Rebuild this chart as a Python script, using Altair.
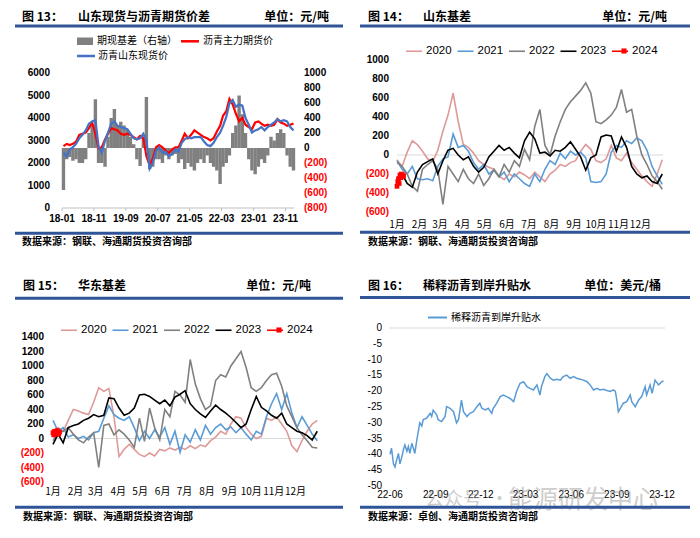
import altair as alt
import pandas as pd

CJK = "Noto Sans CJK SC"
LAT = "Liberation Sans"
RULE_BLUE = "#2F5597"
SRC_A = "数据来源：钢联、海通期货投资咨询部"
SRC_B = "数据来源：卓创、海通期货投资咨询部"
M = 8  # page margin: image coordinate -> chart coordinate

# ---------------- Panel 13: monthly data 2018-01 .. 2024-01 ----------------
FUTURES_13 = [2750, 2850, 2800, 2850, 2950, 3250, 3300, 3350, 3550, 3800, 3300, 2650,
              2700, 3050, 3300, 3550, 3500, 3450, 3300, 3250, 3300, 3250, 3150, 3050,
              3200, 3100, 2300, 1900, 2200, 2700, 2800, 2700, 2550, 2450, 2600, 2700,
              2700, 3000, 3300, 3100, 3250, 3450, 3350, 3250, 3150, 3100, 3000, 3100,
              3400, 3650, 4100, 4300, 4850, 4600, 4200, 3850, 4000, 3700, 3600, 3500,
              3800, 3850, 3750, 3650, 3700, 3650, 3700, 3950, 3800, 3750, 3650, 3700,
              3750]
SPOT_13 = [2450, 2300, 2600, 2700, 2850, 3100, 3250, 3450, 3750, 3850, 3900, 2750,
           2450, 3000, 3350, 3750, 3850, 3650, 3600, 3550, 3500, 3300, 3100, 3050,
           3100, 3300, 3000, 1750, 2000, 2550, 2700, 2450, 2500, 2300, 2400, 2600,
           2500, 2900, 3050, 3150, 3100, 3150, 3150, 3150, 2950, 2800, 2750, 2900,
           3150, 3350, 3650, 4050, 4650, 4800, 4500, 4600, 4550, 4000, 3700, 3350,
           3450, 3500, 3600, 3450, 3600, 3700, 3800, 3950, 3850, 3900, 3850, 3600,
           3450]
BASIS_13 = [-560, -150, -120, -170, -150, -200, -200, -150, 200, 300, 650, -200,
            -200, -250, 150, 400, 520, 300, 350, 300, 250, 150, 50, -150,
            -240, 150, 680, -280, -250, -150, -150, -200, -100, -150, -100, -80,
            -200, -150, -280, -200, -250, -300, -200, -150, -200, -100, -200, -250,
            -300, -480, -250, -200, -100, 200, 300, 700, 450, 200, -150, -300,
            -350, -250, -150, -200, -100, 150, 100, 200, 250, 200, -100, -250,
            -300]
P13_TICK_DATES = ["2018-01-01", "2018-11-01", "2019-09-01", "2020-07-01",
                  "2021-05-01", "2022-03-01", "2023-01-01", "2023-11-01"]
P13_TICK_LABELS = ["18-01", "18-11", "19-09", "20-07", "21-05", "22-03", "23-01", "23-11"]
P13_LEFT_TICKS = [0, 1000, 2000, 3000, 4000, 5000, 6000]
P13_RIGHT_TICKS = [-800, -600, -400, -200, 0, 200, 400, 600, 800, 1000]

# ---------------- Panels 14/15: weekly seasonal basis ----------------
YEARS = ["2020", "2021", "2022", "2023", "2024"]
YEAR_COLORS = ["#DE9A98", "#5B9BD5", "#808080", "#000000", "#FF0000"]
YEAR_WIDTHS = [1.6, 1.6, 1.8, 2.6, 2.0]

SD_2020 = [-50, -120, 30, 150, 110, 40, -40, -70, 50, 250, 420, 650, 350, 110, 80, 20, -60, -100,
           -130, -150, -220, -260, -200, -230, -180, -210, -250, -180, -230, -280, -200, -160, -100,
           -120, -80, -60, 40, 110, 60, -60, -80, -40, 100, -30, -60, 20, -80, -150, -220, -280,
           -330, -200, -50]
SD_2021 = [-60, -150, -200, -120, -250, -260, -250, -270, -120, -40, -20, 220, 80, 100, 40, -80, -150,
           -100, -200, -160, -230, -180, -280, -200, -250, -300, -330, -200, -280, -150, -60, -100, 20,
           -40, 40, 0, 30, -30, -280, -290, -280, -200, 30, 100, 80, 150, 120, 180, 150, 50, -120,
           -220, -310]
SD_2022 = [-80, -120, -200, -330, -380, -150, -100, -60, -150, -520, -120, -200, -280, -150, -250, -300,
           -200, -320, -250, -150, -230, -100, -180, -60, -120, 60, -50, 300, 480, 100, 0, 200, 350,
           480, 560, 620, 680, 760, 650, 350, 330, 370, 420, 500, 690, 450, 480, 200, 0, -100, -220,
           -280, -360]
SD_2023 = [-240, -200, -300, -340, -180, -100, -70, -40, -200, -60, 50, 70, 0, -50, -20, -120, -180,
           -130, -20, 40, 100, 50, 80, 20, -30, 150, 240, 170, 20, 30, -10, 50, 40, 80, 140, 60, -20,
           -160, -30, 0, 190, 210, 200, 40, 190, 80, -120, -200, -240, -220, -280, -300, -200]
SD_2024 = [-330, -280, -250, -300, -210, -240, -200, -230, -210, -220]

HD_2020 = [50, 150, 100, 250, 400, 380, 350, 330, 500, 700, 650, 690, 300, -250, -150, -80, -150, -220,
           -250, -200, -240, -150, -170, -130, -160, -120, -150, -100, -140, -90, -110, -30, 20, 100,
           60, 200, 300, 280, 150, 60, 0, 30, 280, 250, 300, 200, 100, -100, -180, -30, 100, 200, 250]
HD_2021 = [250, 100, 150, 20, 50, 0, 30, -20, 80, 100, 280, 450, 330, 280, 250, 300, 150, -30, 100, 0,
           120, 20, 150, -80, 100, -190, 50, -50, 120, -20, 180, 60, 150, 200, 120, 160, 80, 150, 60,
           -20, 100, 60, 300, 480, 620, 400, 620, 350, 150, 300, 180, 60, -30]
HD_2022 = [-30, 80, 100, 150, 60, -20, -60, 20, 80, -400, 180, 200, 50, 120, 60, -20, -120, 280, -40,
           420, 150, -20, 400, 300, 650, 600, 500, 1090, 750, 550, 400, 450, 800, 880, 850, 1000, 1100,
           1200, 980, 700, 650, 700, 800, 880, 900, 720, 450, 300, 150, 50, -30, -120, -130]
HD_2023 = [-80, 60, -60, 150, 180, 200, 250, 280, 330, 300, 320, 560, 550, 420, 320, 350, 420, 600, 610,
           580, 530, 480, 530, 450, 570, 610, 660, 480, 400, 340, 290, 380, 460, 400, 350, 290, 220,
           150, 200, 400, 580, 430, 380, 320, 280, 350, 200, 150, 100, 80, 40, -20, 100]
HD_2024 = [80, 50, 100, 60, 90, 70, 110, 80, 60, 90]

MONTH_STARTS = [0, 31, 59, 90, 120, 151, 181, 212, 243, 273, 304, 334]
MONTH_LABELS = ["1月", "2月", "3月", "4月", "5月", "6月", "7月", "8月", "9月", "10月", "11月", "12月"]
P14_TICKS = [-600, -400, -200, 0, 200, 400, 600, 800, 1000]
P15_TICKS = [-600, -400, -200, 0, 200, 400, 600, 800, 1000, 1200, 1400]

# ---------------- Panel 16 ----------------
P16_DATES = ["2022-06-01", "2022-06-04", "2022-06-08", "2022-06-11", "2022-06-14", "2022-06-18",
             "2022-06-21", "2022-06-25", "2022-06-28", "2022-07-01", "2022-07-05", "2022-07-08",
             "2022-07-11", "2022-07-15", "2022-07-18", "2022-07-21", "2022-07-25", "2022-07-28",
             "2022-07-31", "2022-08-04", "2022-08-07", "2022-08-14", "2022-08-21", "2022-08-24",
             "2022-08-27", "2022-09-03", "2022-09-06", "2022-09-13", "2022-09-20", "2022-09-23",
             "2022-09-30", "2022-10-07", "2022-10-13", "2022-10-17", "2022-10-23", "2022-10-27",
             "2022-11-03", "2022-11-09", "2022-11-16", "2022-11-23", "2022-11-29", "2022-12-03",
             "2022-12-10", "2022-12-16", "2022-12-23", "2022-12-26", "2023-01-02", "2023-01-09",
             "2023-01-15", "2023-01-22", "2023-01-29", "2023-02-05", "2023-02-11", "2023-02-18",
             "2023-02-25", "2023-03-04", "2023-03-10", "2023-03-17", "2023-03-24", "2023-03-30",
             "2023-04-02", "2023-04-09", "2023-04-13", "2023-04-20", "2023-04-26", "2023-05-03",
             "2023-05-10", "2023-05-16", "2023-05-23", "2023-05-30", "2023-06-06", "2023-06-12",
             "2023-06-19", "2023-06-26", "2023-07-03", "2023-07-09", "2023-07-16", "2023-07-23",
             "2023-07-29", "2023-08-05", "2023-08-12", "2023-08-19", "2023-08-25", "2023-08-29",
             "2023-09-01", "2023-09-04", "2023-09-08", "2023-09-14", "2023-09-21", "2023-09-28",
             "2023-10-01", "2023-10-08", "2023-10-15", "2023-10-21", "2023-10-28", "2023-10-31",
             "2023-11-07", "2023-11-11", "2023-11-17", "2023-11-24", "2023-12-01", "2023-12-04"]
P16_VALUES = [-40, -38, -43, -44, -42, -39.7, -43, -40.7, -38.5, -37, -39, -37.5,
              -39.7, -36.5, -38, -39.7, -35.5, -32.8, -30, -31, -29, -28.5, -27, -28,
              -26, -27.5, -29, -29.6, -28, -24.9, -25.4, -26.5, -30, -29, -22.8, -26.5,
              -28, -27, -26.5, -24.9, -23.8, -25.4, -25.9, -25.4, -27, -25.4, -23.8, -21.7,
              -21.2, -21.7, -22.3, -23.3, -20.1, -17.5, -17, -18.6, -19.1, -19.6, -18, -21.2,
              -18.6, -15.4, -14.4, -15.9, -16.5, -16.2, -16.5, -15.4, -14.9, -15.9, -15.4, -15.9,
              -16.2, -16.5, -17, -18, -19.6, -19.1, -19.6, -19.4, -19.8, -20.1, -19.6, -20.1,
              -22.8, -26.5, -25.4, -23.8, -23.3, -21.2, -23.3, -24.9, -22.8, -21.7, -18.6, -21.2,
              -18, -20.7, -16.5, -18, -17, -16.7]
P16_TICK_DATES = ["2022-06-01", "2022-09-01", "2022-12-01", "2023-03-01", "2023-06-01", "2023-09-01", "2023-12-01"]
P16_TICK_LABELS = ["22-06", "22-09", "22-12", "23-03", "23-06", "23-09", "23-12"]
P16_TICKS = [-50, -45, -40, -35, -30, -25, -20, -15, -10, -5, 0]

# ---------------- helpers ----------------
ONE = pd.DataFrame({"k": [0]})


def paren(v):
    return f"({-v})" if v < 0 else str(v)


def tick_df(vals, neg_red=True, fmt=paren):
    return pd.DataFrame({"v": vals, "t": [fmt(v) for v in vals],
                         "c": ["#FF0000" if (neg_red and v < 0) else "#000000" for v in vals]})


def txt(s, x, y, size=10, weight="normal", color="#000000", align="left", font=CJK, opacity=1.0):
    return alt.Chart(ONE).mark_text(
        text=s, align=align, baseline="middle", fontSize=size, fontWeight=weight,
        color=color, font=font, opacity=opacity
    ).encode(x=alt.value(x - M), y=alt.value(y - M))


def hline(x1, x2, y, color=RULE_BLUE, width=3.0):
    return alt.Chart(ONE).mark_rule(color=color, strokeWidth=width).encode(
        x=alt.value(x1 - M), x2=alt.value(x2 - M), y=alt.value(y - M))


def square(x, y, color="#FF0000", size=26):
    return alt.Chart(ONE).mark_point(shape="square", filled=True, size=size, opacity=1, color=color).encode(
        x=alt.value(x - M), y=alt.value(y - M))


def frame(num, title, unit, unit_right, src, left, right, head_y, rule_y, foot_rule_y, foot_y, num_x, title_x):
    return [
        txt(f"图 {num}：", num_x, head_y, size=12, weight="bold"),
        txt(title, title_x, head_y, size=12, weight="bold"),
        txt(unit, unit_right, head_y, size=12, weight="bold", align="right"),
        hline(left, right, rule_y),
        hline(left, right, foot_rule_y),
        txt(src, num_x, foot_y, size=10, weight="bold"),
    ]


def ylabels(vals, scale, x, align="right", weight="bold", neg_red=True, fmt=paren):
    return alt.Chart(tick_df(vals, neg_red, fmt)).mark_text(
        align=align, baseline="middle", font=LAT, fontSize=10, fontWeight=weight
    ).encode(y=alt.Y("v:Q", scale=scale, axis=None), x=alt.value(x - M),
             text="t:N", color=alt.Color("c:N", scale=None))


def xlabels(df, field, scale, y, font=LAT, weight="normal"):
    return alt.Chart(df).mark_text(
        align="center", baseline="middle", font=font, fontSize=10, fontWeight=weight, color="#000000"
    ).encode(x=alt.X(field, scale=scale, axis=None), y=alt.value(y - M), text="t:N")


def dts(y, m, d):
    return alt.DateTime(year=y, month=m, date=d, utc=True)


# ---------------- Panel 13 ----------------
dates13 = [f"{2018 + i // 12}-{i % 12 + 1:02d}-15" for i in range(len(FUTURES_13))]
df13 = pd.DataFrame({"date": dates13, "futures": FUTURES_13, "spot": SPOT_13, "basis": BASIS_13})
sx13 = alt.Scale(type="utc", domain=[dts(2018, 1, 1), dts(2024, 1, 20)], range=[57 - M, 299 - M])
syL13 = alt.Scale(domain=[0, 6000], range=[208 - M, 73 - M], nice=False, zero=False)
syR13 = alt.Scale(domain=[-800, 1000], range=[208 - M, 73 - M], nice=False)

bars13 = alt.Chart(df13).mark_bar(color="#808080", size=3.4).encode(
    x=alt.X("date:T", scale=sx13, axis=None), y=alt.Y("basis:Q", scale=syR13, axis=None))
right13 = alt.layer(bars13, ylabels(P13_RIGHT_TICKS, syR13, 304, align="left"))
red13 = alt.Chart(df13).mark_line(color="#FF0000", strokeWidth=2.2).encode(
    x=alt.X("date:T", scale=sx13, axis=None), y=alt.Y("futures:Q", scale=syL13, axis=None))
blue13 = alt.Chart(df13).mark_line(color="#4472C4", strokeWidth=2.2).encode(
    x=alt.X("date:T", scale=sx13, axis=None), y=alt.Y("spot:Q", scale=syL13, axis=None))
left13 = alt.layer(red13, blue13, ylabels(P13_LEFT_TICKS, syL13, 50, neg_red=False, fmt=str))

ticks13 = pd.DataFrame({"d": P13_TICK_DATES, "t": P13_TICK_LABELS})
axis13 = alt.layer(
    alt.Chart(pd.DataFrame({"a": ["2018-01-01"], "b": ["2024-01-20"]})).mark_rule(
        color="#BFBFBF", strokeWidth=1).encode(
        x=alt.X("a:T", scale=sx13, axis=None), x2="b:T", y=alt.value(208 - M)),
    alt.Chart(ticks13).mark_rule(color="#BFBFBF", strokeWidth=1).encode(
        x=alt.X("d:T", scale=sx13, axis=None), y=alt.value(208 - M), y2=alt.value(211 - M)),
    xlabels(ticks13, "d:T", sx13, 219, weight="bold"),
)
legend13 = [
    alt.Chart(ONE).mark_rect(color="#808080").encode(
        x=alt.value(77 - M), x2=alt.value(93 - M), y=alt.value(37.5 - M), y2=alt.value(45 - M)),
    txt("期现基差（右轴）", 97, 41.3),
    hline(181, 199, 41.3, color="#FF0000", width=2.5),
    txt("沥青主力期货价", 203, 41.3),
    hline(77, 95, 56, color="#4472C4", width=2.5),
    txt("沥青山东现货价", 98, 56),
]
deco13 = frame(13, "山东现货与沥青期货价差", "单位：元/吨", 329, SRC_A, 15, 343, 17, 26, 233.3, 242.3, 22, 78)
p13 = alt.layer(right13, left13, axis13, *legend13, *deco13).resolve_scale(y="independent")


# ---------------- Panels 14 / 15 ----------------
def season_df(series):
    rows = []
    for yr, vals, step in series:
        for i, v in enumerate(vals):
            rows.append({"year": yr, "day": i * step, "value": v})
    return pd.DataFrame(rows)


def season_panel(df, xr, yr, ydom, yticks, ylab_x, xlab_y, legend_xy):
    sx = alt.Scale(domain=[0, 365], range=[xr[0] - M, xr[1] - M], nice=False, zero=False)
    sy = alt.Scale(domain=ydom, range=[yr[0] - M, yr[1] - M], nice=False, zero=False)
    xs = alt.X("day:Q", scale=sx, axis=None)
    ys = alt.Y("value:Q", scale=sy, axis=None)
    zero = alt.Chart(pd.DataFrame({"a": [0], "b": [365], "value": [0]})).mark_rule(
        color="#D9D9D9", strokeWidth=1).encode(x=alt.X("a:Q", scale=sx, axis=None), x2="b:Q", y=ys)
    lines = alt.Chart(df).mark_line().encode(
        x=xs, y=ys,
        color=alt.Color("year:N", scale=alt.Scale(domain=YEARS, range=YEAR_COLORS),
                        legend=alt.Legend(orient="none", legendX=legend_xy[0] - M, legendY=legend_xy[1] - M,
                                          direction="horizontal", title=None, symbolType="stroke",
                                          symbolSize=256, symbolStrokeWidth=2, labelFont=LAT,
                                          labelFontSize=11.5, labelColor="#000000", labelOffset=3,
                                          columnPadding=1.5, padding=0)),
        strokeWidth=alt.StrokeWidth("year:N", scale=alt.Scale(domain=YEARS, range=YEAR_WIDTHS), legend=None),
    )
    pts = alt.Chart(df).transform_filter("datum.year == '2024'").mark_point(
        shape="square", filled=True, size=22, opacity=1, color="#FF0000").encode(x=xs, y=ys)
    ylab = ylabels(yticks, sy, ylab_x)
    xlab = xlabels(pd.DataFrame({"d": MONTH_STARTS, "t": MONTH_LABELS}), "d:Q", sx, xlab_y, font=CJK)
    marker = square(legend_xy[0] + 219, legend_xy[1] + 9)
    return [zero, lines, pts, ylab, xlab, marker]


df14 = season_df([("2020", SD_2020, 7), ("2021", SD_2021, 7), ("2022", SD_2022, 7),
                  ("2023", SD_2023, 7), ("2024", SD_2024, 1)])
p14 = alt.layer(
    *season_panel(df14, (397, 663), (212, 60), [-600, 1000], P14_TICKS, 389, 225, (405, 42)),
    *frame(14, "山东基差", "单位：元/吨", 667, SRC_A, 360, 690, 17, 26, 232.3, 242.3, 368, 423))

df15 = season_df([("2020", HD_2020, 7), ("2021", HD_2021, 7), ("2022", HD_2022, 7),
                  ("2023", HD_2023, 7), ("2024", HD_2024, 1)])
p15 = alt.layer(
    *season_panel(df15, (53, 318), (482, 337), [-600, 1400], P15_TICKS, 44, 492, (60, 321)),
    *frame(15, "华东基差", "单位：元/吨", 311, SRC_A, 15, 343, 285.7, 298.3, 507.3, 516.7, 23, 78))

# ---------------- Panel 16 ----------------
df16 = pd.DataFrame({"date": P16_DATES, "value": P16_VALUES, "series": "稀释沥青到岸升贴水"})
sx16 = alt.Scale(type="utc", domain=[dts(2022, 5, 30), dts(2023, 12, 7)], range=[389 - M, 665 - M])
sy16 = alt.Scale(domain=[-50, 0], range=[486 - M, 328 - M], nice=False, zero=False)
zero16 = alt.Chart(pd.DataFrame({"a": ["2022-05-30"], "b": ["2023-12-07"], "value": [0]})).mark_rule(
    color="#D9D9D9", strokeWidth=1).encode(
    x=alt.X("a:T", scale=sx16, axis=None), x2="b:T", y=alt.Y("value:Q", scale=sy16, axis=None))
line16 = alt.Chart(df16).mark_line(strokeWidth=1.5).encode(
    x=alt.X("date:T", scale=sx16, axis=None), y=alt.Y("value:Q", scale=sy16, axis=None),
    color=alt.Color("series:N", scale=alt.Scale(domain=["稀释沥青到岸升贴水"], range=["#5B9BD5"]),
                    legend=alt.Legend(orient="none", legendX=427 - M, legendY=307 - M, title=None,
                                      symbolType="stroke", symbolSize=361, symbolStrokeWidth=2,
                                      labelFont=CJK, labelFontSize=10, labelColor="#000000",
                                      labelOffset=3, padding=0)))
ylab16 = ylabels(P16_TICKS, sy16, 382, weight="normal", neg_red=False, fmt=str)
xlab16 = xlabels(pd.DataFrame({"d": P16_TICK_DATES, "t": P16_TICK_LABELS}), "d:T", sx16, 495)
wm16 = [
    txt("公众号", 425, 500, size=19, color="#9E9E9E", opacity=0.5),
    txt("·", 490, 500, size=19, color="#9E9E9E", opacity=0.5),
    txt("能源研发中心", 508, 500, size=25, color="#9E9E9E", opacity=0.5),
]
p16 = alt.layer(zero16, line16, ylab16, xlab16, *wm16,
                *frame(16, "稀释沥青到岸升贴水", "单位：美元/桶", 661, SRC_B, 360, 690, 285.7, 297.5,
                       507.3, 516.7, 368, 423))

# ---------------- whole page ----------------
chart = alt.layer(p13, p14, p15, p16).resolve_scale(
    x="independent", y="independent", color="independent", strokeWidth="independent"
).resolve_legend(color="independent").properties(
    width=700 - 2 * M, height=538 - 2 * M, padding=0, background="#FFFFFF",
    autosize=alt.AutoSizeParams(type="none")
).configure_view(stroke=None)

chart.save("out.html", embed_options={"renderer": "svg", "actions": False})
